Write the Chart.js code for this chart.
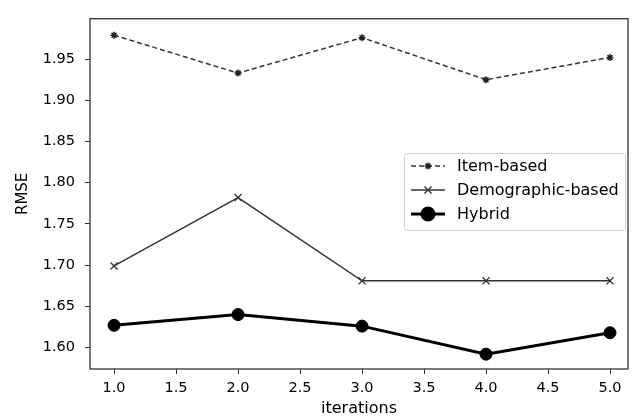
<!DOCTYPE html>
<html>
<head>
<meta charset="utf-8">
<script src="https://cdn.jsdelivr.net/npm/chart.js@4/dist/chart.umd.min.js"></script>
<style>
  html, body { margin: 0; padding: 0; background: #fff; }
  #wrap { width: 635px; height: 418px; }
</style>
</head>
<body>
<div id="wrap"><canvas id="rmse-chart"></canvas></div>
<script>
'use strict';

var iterations = [1, 2, 3, 4, 5];
var itemBased = [1.979, 1.933, 1.976, 1.925, 1.952];
var demographicBased = [1.699, 1.782, 1.681, 1.681, 1.681];
var hybrid = [1.627, 1.640, 1.626, 1.592, 1.618];
var xTicks = [1.0, 1.5, 2.0, 2.5, 3.0, 3.5, 4.0, 4.5, 5.0];
var yTicks = [1.60, 1.65, 1.70, 1.75, 1.80, 1.85, 1.90, 1.95];

var FONT = "'DejaVu Sans', sans-serif";

function toPoints(values) {
    return iterations.map(function(x, i) { return { x: x, y: values[i] }; });
}

// frame round the plot area, like matplotlib's spines
var framePlugin = {
    id: 'frame',
    afterDraw: function(chart) {
        var a = chart.chartArea, ctx = chart.ctx;
        ctx.save();
        ctx.strokeStyle = '#333';
        ctx.lineWidth = 1.3;
        ctx.strokeRect(a.left, a.top, a.right - a.left, a.bottom - a.top);
        ctx.restore();
    }
};

// legend box inside the axes, drawn by hand so the dashes/markers match
var boxLegend = {
    id: 'boxLegend',
    afterDraw: function(chart) {
        var ctx = chart.ctx;
        var x0 = 404, y0 = 153, w = 221, h = 77;
        ctx.save();
        ctx.fillStyle = 'rgba(255,255,255,0.8)';
        ctx.strokeStyle = '#d0d0d0';
        ctx.lineWidth = 1;
        ctx.beginPath();
        ctx.roundRect(x0 + 0.5, y0 + 0.5, w, h, 3);
        ctx.fill();
        ctx.stroke();
        ctx.font = '16px ' + FONT;
        ctx.textBaseline = 'middle';
        chart.data.datasets.forEach(function(ds, i) {
            var cy = y0 + 13 + i * 24;
            var lx = x0 + 7;
            ctx.strokeStyle = ds.borderColor;
            ctx.lineWidth = ds.borderWidth;
            ctx.setLineDash(ds.borderDash || []);
            ctx.beginPath();
            ctx.moveTo(lx, cy);
            ctx.lineTo(lx + 34, cy);
            ctx.stroke();
            ctx.setLineDash([]);
            ctx.strokeStyle = ds.pointBorderColor;
            ctx.fillStyle = ds.pointBackgroundColor;
            Chart.helpers.drawPoint(ctx, {
                pointStyle: ds.pointStyle,
                radius: ds.pointRadius,
                borderWidth: ds.pointBorderWidth || 1
            }, lx + 17, cy);
            ctx.fillStyle = '#000';
            ctx.fillText(ds.label, lx + 46, cy + 1);
        });
        ctx.restore();
    }
};

var config = {
    type: 'line',
    data: {
        datasets: [{
            label: 'Item-based',
            data: toPoints(itemBased),
            borderColor: '#333',
            borderWidth: 1.5,
            borderDash: [5, 3],
            pointStyle: 'star',
            pointRadius: 3.5,
            pointBorderWidth: 1.5,
            pointBorderColor: '#222',
            pointBackgroundColor: '#222'
        }, {
            label: 'Demographic-based',
            data: toPoints(demographicBased),
            borderColor: '#333',
            borderWidth: 1.4,
            pointStyle: 'crossRot',
            pointRadius: 5,
            pointBorderWidth: 1.3,
            pointBorderColor: '#333',
            pointBackgroundColor: '#333'
        }, {
            label: 'Hybrid',
            data: toPoints(hybrid),
            borderColor: '#000',
            borderWidth: 3,
            pointStyle: 'circle',
            pointRadius: 6,
            pointBorderWidth: 1,
            pointBorderColor: '#000',
            pointBackgroundColor: '#000'
        }]
    },
    options: {
        responsive: false,
        animation: false,
        layout: { padding: { top: 14, right: 7, left: 0, bottom: 0 } },
        plugins: {
            legend: { display: false },
            tooltip: { enabled: false }
        },
        scales: {
            x: {
                type: 'linear',
                min: 0.806,
                max: 5.145,
                afterBuildTicks: function(axis) {
                    axis.ticks = xTicks.map(function(v) { return { value: v }; });
                },
                afterFit: function(axis) { axis.height = 49; },
                grid: { drawOnChartArea: false, drawTicks: true, tickLength: 5, color: '#333' },
                border: { display: false },
                ticks: {
                    padding: 6,
                    color: '#000',
                    font: { family: FONT, size: 14.5 },
                    callback: function(v) { return v.toFixed(1); }
                },
                title: {
                    display: true,
                    text: 'iterations',
                    color: '#000',
                    font: { family: FONT, size: 16 },
                    padding: { top: 3, bottom: 0 }
                }
            },
            y: {
                type: 'linear',
                min: 1.574,
                max: 1.999,
                afterBuildTicks: function(axis) {
                    axis.ticks = yTicks.map(function(v) { return { value: v }; });
                },
                afterFit: function(axis) { axis.width = 90; },
                grid: { drawOnChartArea: false, drawTicks: true, tickLength: 5, color: '#333' },
                border: { display: false },
                ticks: {
                    padding: 10,
                    color: '#000',
                    font: { family: FONT, size: 14.5 },
                    callback: function(v) { return v.toFixed(2); }
                },
                title: {
                    display: true,
                    text: 'RMSE',
                    color: '#000',
                    font: { family: FONT, size: 15 },
                    padding: { top: 14, bottom: 4 }
                }
            }
        }
    },
    plugins: [framePlugin, boxLegend]
};

var canvas = document.getElementById('rmse-chart');
canvas.width = 635;
canvas.height = 418;
var rmseChart = new Chart(canvas.getContext('2d'), config);
</script>
</body>
</html>
